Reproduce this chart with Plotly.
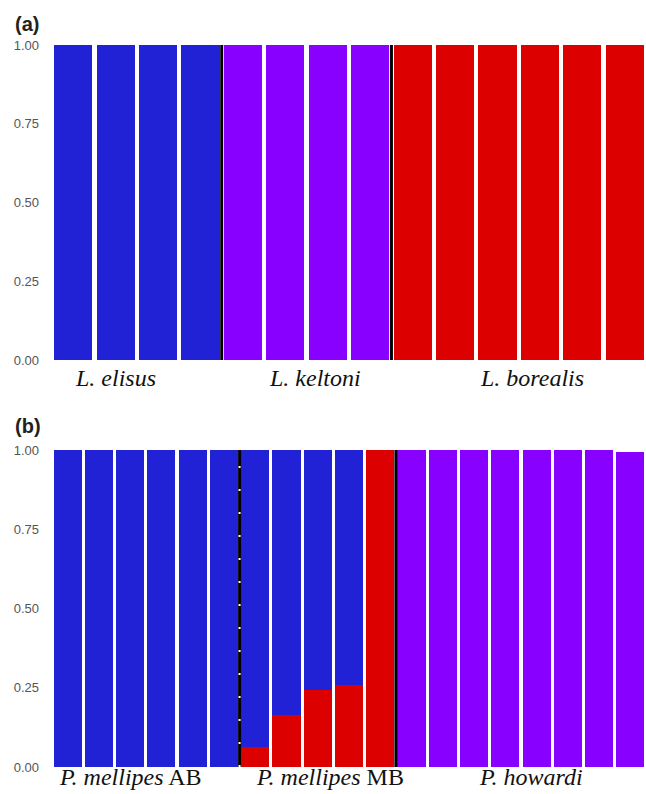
import plotly.graph_objects as go

# ---- data ----
a_individuals = list(range(14))
a_blue   = [1, 1, 1, 1, 0, 0, 0, 0, 0, 0, 0, 0, 0, 0]
a_purple = [0, 0, 0, 0, 1, 1, 1, 1, 0, 0, 0, 0, 0, 0]
a_red    = [0, 0, 0, 0, 0, 0, 0, 0, 1, 1, 1, 1, 1, 1]
a_groups = ["L. elisus", "L. keltoni", "L. borealis"]
a_group_label_x = [1.0, 5.7, 10.81]
a_boundaries = [3.5, 7.5]

b_individuals = list(range(19))
b_red    = [0, 0, 0, 0, 0, 0, 0.063, 0.164, 0.243, 0.259, 1.0, 0, 0, 0, 0, 0, 0, 0, 0]
b_blue   = [1, 1, 1, 1, 1, 1, 0.937, 0.836, 0.757, 0.741, 0, 0, 0, 0, 0, 0, 0, 0, 0]
b_purple = [0, 0, 0, 0, 0, 0, 0, 0, 0, 0, 0, 1, 1, 1, 1, 1, 1, 1, 0.995]
b_groups = ["<i>P. mellipes</i> AB", "<i>P. mellipes</i> MB", "<i>P. howardi</i>"]
b_group_label_x = [2.0, 8.38, 14.82]
b_dashed_boundary = 5.5
b_solid_boundary = 10.5

yticks = [0, 0.25, 0.5, 0.75, 1.0]
yticklabels = ["0.00", "0.25", "0.50", "0.75", "1.00"]

BLUE = "#2121d6"
PURPLE = "#8800ff"
RED = "#dd0000"

fig = go.Figure()
W = 0.9
# panel a
for vals, col in [(a_blue, BLUE), (a_purple, PURPLE), (a_red, RED)]:
    fig.add_trace(go.Bar(x=a_individuals, y=vals, marker=dict(color=col, line=dict(width=0)),
                         width=W, xaxis="x", yaxis="y", showlegend=False))
# panel b (red at bottom, then blue, then purple)
for vals, col in [(b_red, RED), (b_blue, BLUE), (b_purple, PURPLE)]:
    fig.add_trace(go.Bar(x=b_individuals, y=vals, marker=dict(color=col, line=dict(width=0)),
                         width=W, xaxis="x2", yaxis="y2", showlegend=False))

# separators
for xb in a_boundaries:
    fig.add_shape(type="line", xref="x", yref="y domain", x0=xb, x1=xb, y0=0, y1=1,
                  line=dict(color="black", width=3))
fig.add_shape(type="line", xref="x2", yref="y2 domain", x0=b_solid_boundary, x1=b_solid_boundary,
              y0=0, y1=1, line=dict(color="black", width=3))
fig.add_shape(type="line", xref="x2", yref="y2 domain", x0=b_dashed_boundary, x1=b_dashed_boundary,
              y0=0, y1=1, line=dict(color="black", width=3))
fig.add_shape(type="line", xref="x2", yref="y2 domain", x0=b_dashed_boundary, x1=b_dashed_boundary,
              y0=0, y1=1, line=dict(color="white", width=2, dash="2px,21px"))

# group labels
for name, xl in zip(a_groups, a_group_label_x):
    fig.add_annotation(x=xl, xref="x", y=0, yref="y domain", yshift=-18, yanchor="middle",
                       text="<i>%s</i>" % name, showarrow=False,
                       font=dict(family="Liberation Serif", size=24, color="#111"))
for name, xl in zip(b_groups, b_group_label_x):
    fig.add_annotation(x=xl, xref="x2", y=0, yref="y2 domain", yshift=-10, yanchor="middle",
                       text=name, showarrow=False,
                       font=dict(family="Liberation Serif", size=24, color="#111"))

# panel letters
fig.add_annotation(x=0, xref="paper", xshift=-39, y=1, yref="paper", yshift=21, xanchor="left",
                   yanchor="middle", text="<b>(a)</b>", showarrow=False,
                   font=dict(family="Liberation Sans", size=20, color="#222"))
fig.add_annotation(x=0, xref="paper", xshift=-39, y=0.439, yref="paper", yshift=24, xanchor="left",
                   yanchor="middle", text="<b>(b)</b>", showarrow=False,
                   font=dict(family="Liberation Sans", size=20, color="#222"))

yax = dict(range=[0, 1.0], tickvals=yticks, ticktext=yticklabels, showgrid=False,
           zeroline=False, showline=False, ticks="", ticklabelstandoff=12,
           tickfont=dict(family="Liberation Sans", size=13, color="#555"), fixedrange=True)
fig.update_layout(
    width=646, height=794,
    margin=dict(l=52, r=0, t=45, b=27),
    paper_bgcolor="white", plot_bgcolor="white",
    barmode="stack", bargap=0,
    xaxis=dict(domain=[0, 1], range=[-0.5, 13.5], showticklabels=False, showgrid=False,
               zeroline=False, showline=False, ticks="", anchor="y"),
    yaxis=dict(domain=[0.5637, 1.0], anchor="x", **yax),
    xaxis2=dict(domain=[0, 1], range=[-0.5, 18.5], showticklabels=False, showgrid=False,
                zeroline=False, showline=False, ticks="", anchor="y2"),
    yaxis2=dict(domain=[0, 0.439], anchor="x2", **yax),
)

fig.write_html("out.html", config={"displayModeBar": False})

# remove default page margin so the figure sits at the window's top-left corner
with open("out.html", encoding="utf-8") as f:
    html = f.read()
html = html.replace("<head>", "<head><style>html,body{margin:0;padding:0;overflow:hidden;}</style>", 1)
with open("out.html", "w", encoding="utf-8") as f:
    f.write(html)
